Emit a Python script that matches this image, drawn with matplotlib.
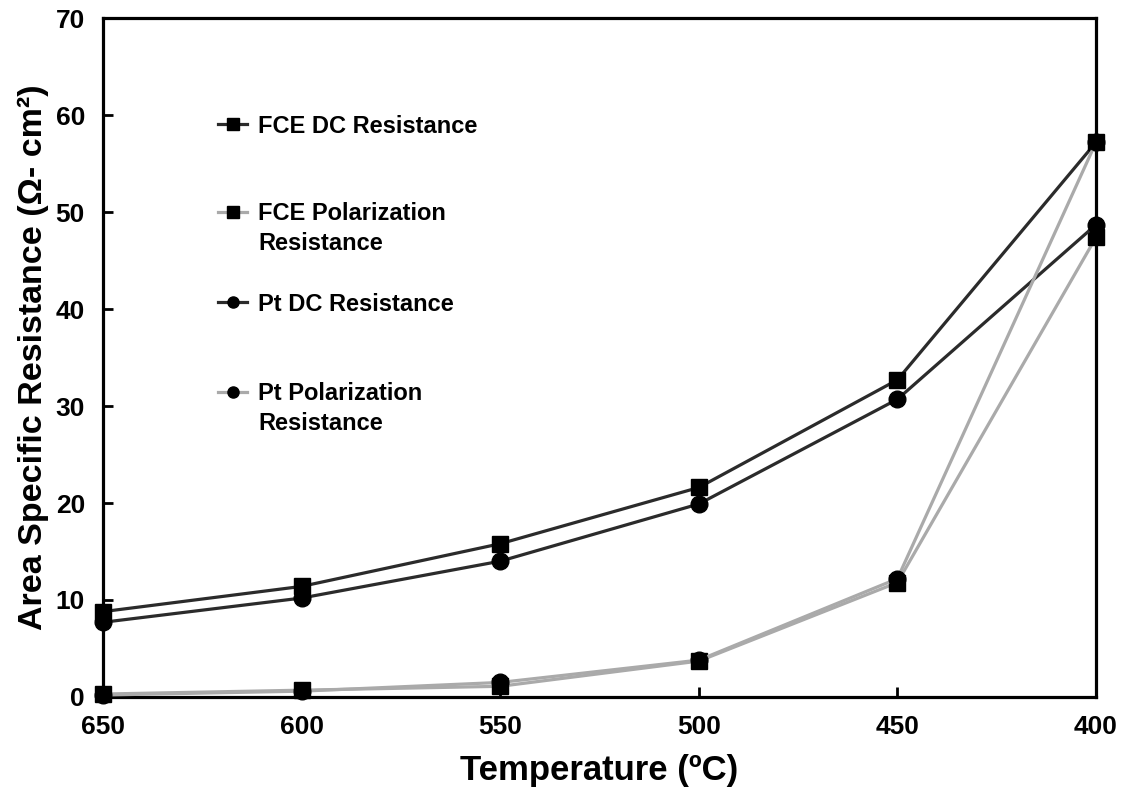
import matplotlib
matplotlib.use("Agg")
import matplotlib.pyplot as plt
from matplotlib.lines import Line2D

plt.rcParams['font.family'] = ['Liberation Sans', 'DejaVu Sans']
plt.rcParams['font.weight'] = 'bold'

# Temperatures (ºC) and area specific resistances (Ω·cm²)
temps = [650, 600, 550, 500, 450, 400]
fce_dc = [8.8, 11.4, 15.8, 21.6, 32.7, 57.2]
fce_pol = [0.3, 0.7, 1.1, 3.7, 11.8, 47.4]
pt_dc = [7.7, 10.2, 14.0, 19.9, 30.7, 48.7]
pt_pol = [0.2, 0.6, 1.5, 3.8, 12.2, 57.2]

labels = ["FCE DC Resistance", "FCE Polarization\nResistance",
          "Pt DC Resistance", "Pt Polarization\nResistance"]
dark = '#2b2b2b'
grey = '#aaaaaa'
styles = [(dark, 's'), (grey, 's'), (dark, 'o'), (grey, 'o')]

fig = plt.figure(figsize=(11.23, 7.87), dpi=100)
ax = fig.add_axes([0.0917, 0.1144, 0.8843, 0.8626])

for ys, (c, m) in zip([fce_dc, fce_pol, pt_dc, pt_pol], styles):
    ax.plot(temps, ys, color=c, lw=2.3, marker=m, ms=12,
            mfc='black', mec='black', clip_on=False, zorder=3)

ax.set_xlim(650, 400)
ax.set_ylim(0, 70)
ax.set_xticks(temps)
ax.set_yticks(range(0, 71, 10))
ax.tick_params(direction='in', length=7, width=2, labelsize=19, pad=13)
for s in ax.spines.values():
    s.set_linewidth(2.3)

ax.set_xlabel("Temperature (ºC)", fontsize=25, fontweight='bold', labelpad=11)
ax.set_ylabel("Area Specific Resistance (Ω- cm²)", fontsize=24.5,
              fontweight='bold', labelpad=5)

# legend drawn by hand so the handle sits on the first line of each label
leg_y = [0.844, 0.714, 0.582, 0.449]
line_step = 0.0427
for y, lab, (c, m) in zip(leg_y, labels, styles):
    ax.add_line(Line2D([0.116, 0.145], [y, y], transform=ax.transAxes,
                       color=c, lw=2.3, clip_on=False))
    ax.add_line(Line2D([0.1305], [y], transform=ax.transAxes, ls='none',
                       marker=m, ms=8, mfc='black', mec='black',
                       clip_on=False))
    # baseline of a multi-line text is that of its last line
    extra = lab.count("\n") * line_step
    ax.text(0.156, y - 0.0135 - extra, lab, transform=ax.transAxes,
            va='baseline', ha='left', fontsize=17, fontweight='bold',
            linespacing=1.4)

fig.savefig("out.png", dpi=100)
